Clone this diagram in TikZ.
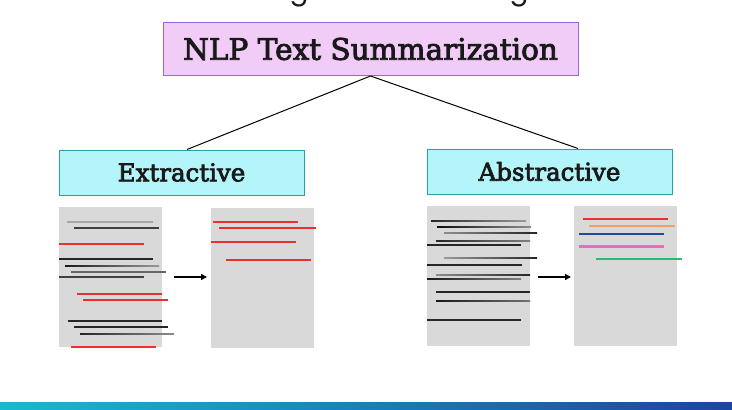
\documentclass[tikz,border=0pt]{standalone}
\usepackage{fontspec}
\newfontfamily\slab[FakeBold=3]{DejaVu Serif}
\newfontfamily\titlefont{Poppins}
\usetikzlibrary{calc,arrows.meta}
\definecolor{topfill}{RGB}{240,204,246}
\definecolor{topborder}{RGB}{150,100,220}
\definecolor{cyfill}{RGB}{180,245,250}
\definecolor{cyborder}{RGB}{40,160,170}
\definecolor{docgray}{RGB}{217,217,217}
\definecolor{lred}{RGB}{232,50,48}
\definecolor{lorange}{RGB}{240,160,100}
\definecolor{lblue}{RGB}{30,75,160}
\definecolor{lpink}{RGB}{240,105,190}
\definecolor{lgreen}{RGB}{45,185,112}
\definecolor{barL}{RGB}{30,182,212}
\definecolor{barR}{RGB}{26,70,155}
\definecolor{txt}{RGB}{25,25,25}
\newcommand\docline[4]{\draw[#4] (#1,#3) -- (#2,#3);}
\newcommand\gline[5]{\shade[left color=#4,right color=#5] (#1,#3-0.7) rectangle (#2,#3+0.7);}
\begin{document}
\begin{tikzpicture}[x=1pt,y=-1pt,
  hdr/.style={draw=topborder,fill=topfill,line width=1pt,minimum width=415pt,minimum height=53pt,inner sep=0pt,text=txt,font=\slab\fontsize{29.5}{31}\selectfont},
  sub/.style={draw=cyborder,fill=cyfill,line width=1pt,minimum width=245pt,minimum height=45pt,inner sep=0pt,text=txt,font=\slab\fontsize{24.5}{26}\selectfont},
  docbox/.style={fill=docgray,minimum width=103pt,minimum height=140pt,inner sep=0pt},
  blk/.style={line width=1.2pt,black!85},
  rl/.style={line width=2pt,lred},
  conn/.style={line width=1pt,black},
  flow/.style={line width=1.6pt,black,-{Triangle[length=6pt,width=6pt]}}]
\fill[white] (0,0) rectangle (732,410);
\useasboundingbox (0,0) rectangle (732,410);
% cropped title fragments
\begin{scope}
\clip (0,0) rectangle (732,12);
\node[anchor=base,inner sep=0pt,text=txt,font=\titlefont\fontsize{28}{28}\selectfont] (g1) at (299,-1) {g};
\node[anchor=base,inner sep=0pt,text=txt,font=\titlefont\fontsize{28}{28}\selectfont] (g2) at (519,-1) {g};
\end{scope}
% boxes
\node[hdr] (top) at (370.5,49) {NLP Text Summarization};
\node[sub] (ext) at (181.5,172.5) {Extractive};
\node[sub] (abs) at (549.5,171.5) {Abstractive};
\draw[conn] (top.south) -- ($(ext.north)+(5.5,0)$);
\draw[conn] (top.south) -- ($(abs.north)+(28.5,0)$);
% documents
\node[docbox] (d1) at (110.5,277) {};
\node[docbox] (d2) at (262,278) {};
\node[docbox] (d3) at (478.5,276) {};
\node[docbox] (d4) at (625.5,276) {};
% doc 1 lines
\docline{67}{153}{222}{line width=1.2pt,black!35}
\docline{74}{159}{228}{blk,black!75}
\docline{59}{144}{244}{rl}
\docline{59}{153}{259}{blk}
\gline{65}{159}{266}{black!90}{black!40}
\docline{71}{166}{272}{line width=1.2pt,black!60}
\docline{59}{144}{277}{blk,black!75}
\docline{77}{162}{294}{rl}
\docline{83}{168}{300}{rl}
\docline{68}{162}{321}{blk}
\docline{74}{168}{327}{blk}
\gline{80}{174}{334}{black!85}{black!45}
\docline{71}{156}{347}{rl}
% doc 2 lines
\docline{213}{298}{222}{rl}
\docline{219}{316}{228}{rl}
\docline{211}{296}{242}{rl}
\docline{226}{311}{260}{rl}
% doc 3 lines
\gline{431}{526}{221}{black!85}{black!40}
\gline{437}{531}{227}{black!95}{black!45}
\gline{444}{537}{233}{black!45}{black!85}
\gline{436}{530}{241}{black!85}{black!50}
\docline{427}{521}{245}{blk}
\gline{444}{537}{258}{black!40}{black!85}
\docline{427}{522}{265}{blk}
\gline{436}{530}{275}{black!45}{black!85}
\gline{427}{521}{279}{black!90}{black!50}
\docline{436}{530}{292}{blk}
\gline{436}{530}{301}{black!90}{black!55}
\docline{427}{521}{320}{blk}
% doc 4 lines
\docline{583}{668}{219}{line width=2pt,lred}
\docline{589}{675}{226}{line width=2pt,lorange}
\docline{579}{664}{234}{line width=2pt,lblue}
\docline{579}{664}{246}{line width=3pt,lpink}
\docline{596}{682}{259}{line width=2pt,lgreen}
% arrows
\coordinate (a1s) at (174,277);
\coordinate (a1e) at (207,277);
\coordinate (a2s) at (538,277);
\coordinate (a2e) at (571,277);
\draw[flow] (a1s) -- (a1e);
\draw[flow] (a2s) -- (a2e);
% bottom bar
\shade[left color=barL,right color=barR] (0,402) rectangle (732,410);
\end{tikzpicture}
\end{document}
